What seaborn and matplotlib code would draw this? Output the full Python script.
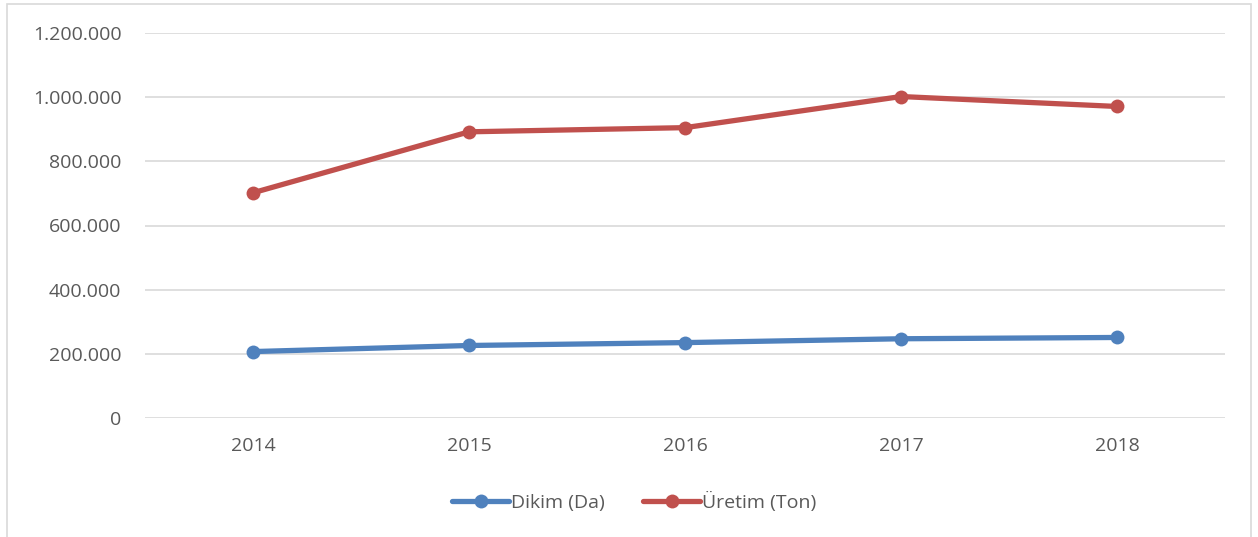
import pandas as pd
import numpy as np
import seaborn as sns
import matplotlib.pyplot as plt
from matplotlib.patches import Rectangle
from matplotlib.ticker import FuncFormatter

years = ['2014', '2015', '2016', '2017', '2018']
dikim = [207000, 226000, 235000, 247000, 251000]
uretim = [702000, 892000, 905000, 1002000, 971000]
series_names = ['Dikim (Da)', 'Üretim (Ton)']
colors = ['#4F81BD', '#C0504D']

df = pd.DataFrame({
    'yil': years * 2,
    'deger': dikim + uretim,
    'seri': [series_names[0]] * len(years) + [series_names[1]] * len(years),
})

sns.set_style('white')
plt.rcParams['font.family'] = ['Open Sans', 'DejaVu Sans']

fig = plt.figure(figsize=(12.58, 5.37), dpi=100)
ax = fig.add_axes([145 / 1258, 1 - 418 / 537, 1080 / 1258, 385 / 537])

sns.lineplot(data=df, x='yil', y='deger', hue='seri', palette=colors,
             marker='o', markersize=10, markeredgewidth=0, linewidth=3.8,
             sort=False, ax=ax)

ax.set_xlim(-0.5, len(years) - 0.5)
ax.set_ylim(0, 1200000)
ax.set_yticks(np.arange(0, 1200001, 200000))
ax.yaxis.set_major_formatter(FuncFormatter(lambda v, p: f'{int(v):,}'.replace(',', '.')))
ax.grid(axis='y', color='#D9D9D9', linewidth=1.2)
ax.set_axisbelow(True)
for s in ax.spines.values():
    s.set_visible(False)
ax.tick_params(axis='both', length=0, labelsize=14, labelcolor='#595959')
ax.tick_params(axis='y', pad=17)
ax.tick_params(axis='x', pad=14)
ax.set_xlabel('')
ax.set_ylabel('')

ax.legend(loc='center', bbox_to_anchor=(0.453, -0.218), ncol=2, frameon=False,
          fontsize=14, labelcolor='#595959', handlelength=2.9, handletextpad=0.1,
          columnspacing=2.0)

fig.patches.append(Rectangle((7 / 1258, -0.01), 1244 / 1258, 1 - 4 / 537 + 0.01,
                             transform=fig.transFigure, fill=False,
                             edgecolor='#D9D9D9', linewidth=1.2))

fig.savefig('out.png', dpi=100)
